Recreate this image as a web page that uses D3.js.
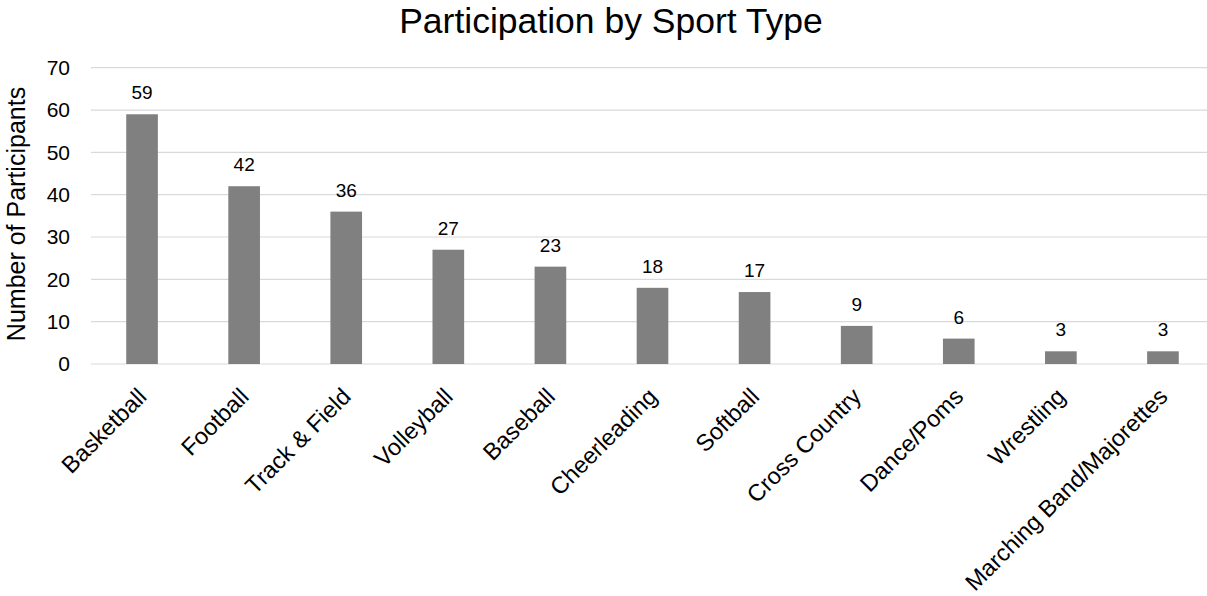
<!DOCTYPE html>
<html>
<head>
<meta charset="utf-8">
<script src="https://cdn.jsdelivr.net/npm/d3@7"></script>
<style>
  body { margin: 0; background: #fff; }
  svg { font-family: "Liberation Sans", Arial, sans-serif; }
</style>
</head>
<body>
<script>
var sports = ["Basketball", "Football", "Track & Field", "Volleyball", "Baseball",
  "Cheerleading", "Softball", "Cross Country", "Dance/Poms", "Wrestling",
  "Marching Band/Majorettes"];
var participants = [59, 42, 36, 27, 23, 18, 17, 9, 6, 3, 3];
var yTicks = [0, 10, 20, 30, 40, 50, 60, 70];

var width = 1207, height = 596;
var plotLeft = 91, plotRight = 1214, plotTop = 67.7, plotBottom = 364;

var svg = d3.select("body").append("svg")
  .attr("width", width).attr("height", height);

var x = d3.scaleBand().domain(sports).range([plotLeft, plotRight])
  .paddingInner(0.69).paddingOuter(0.345);
var y = d3.scaleLinear().domain([0, 70]).range([plotBottom, plotTop]);

// gridlines
svg.append("g").selectAll("line").data(yTicks).join("line")
  .attr("x1", plotLeft).attr("x2", width)
  .attr("y1", d => y(d)).attr("y2", d => y(d))
  .attr("stroke", "#d9d9d9").attr("stroke-width", 1.2);

// y axis labels
var yAxis = d3.axisLeft(y).tickValues(yTicks).tickSize(0).tickPadding(0);
var gy = svg.append("g").attr("transform", "translate(70,0)").call(yAxis);
gy.select(".domain").remove();
gy.selectAll("text").attr("font-size", 21).attr("fill", "#000")
  .attr("font-family", "Liberation Sans, Arial, sans-serif");

// bars
svg.append("g").selectAll("rect").data(participants).join("rect")
  .attr("x", (d, i) => x(sports[i]))
  .attr("y", d => y(d))
  .attr("width", x.bandwidth())
  .attr("height", d => y(0) - y(d))
  .attr("fill", "#808080");

// value labels
svg.append("g").selectAll("text").data(participants).join("text")
  .attr("x", (d, i) => x(sports[i]) + x.bandwidth() / 2)
  .attr("y", d => y(d) - 15)
  .attr("text-anchor", "middle")
  .attr("font-size", 19)
  .attr("fill", "#000")
  .text(d => d);

// x labels
svg.append("g").selectAll("text").data(sports).join("text")
  .attr("transform", d => "translate(" + (x(d) + x.bandwidth() / 2 + 6) + ",398) rotate(-45)")
  .attr("text-anchor", "end")
  .attr("font-size", 23.5)
  .attr("fill", "#000")
  .text(d => d);

// y title
svg.append("text")
  .attr("transform", "translate(25,214) rotate(-90)")
  .attr("text-anchor", "middle")
  .attr("font-size", 25)
  .attr("fill", "#000")
  .text("Number of Participants");

// title
svg.append("text")
  .attr("x", 611).attr("y", 33)
  .attr("text-anchor", "middle")
  .attr("font-size", 35.5)
  .attr("fill", "#000")
  .text("Participation by Sport Type");
</script>
</body>
</html>
